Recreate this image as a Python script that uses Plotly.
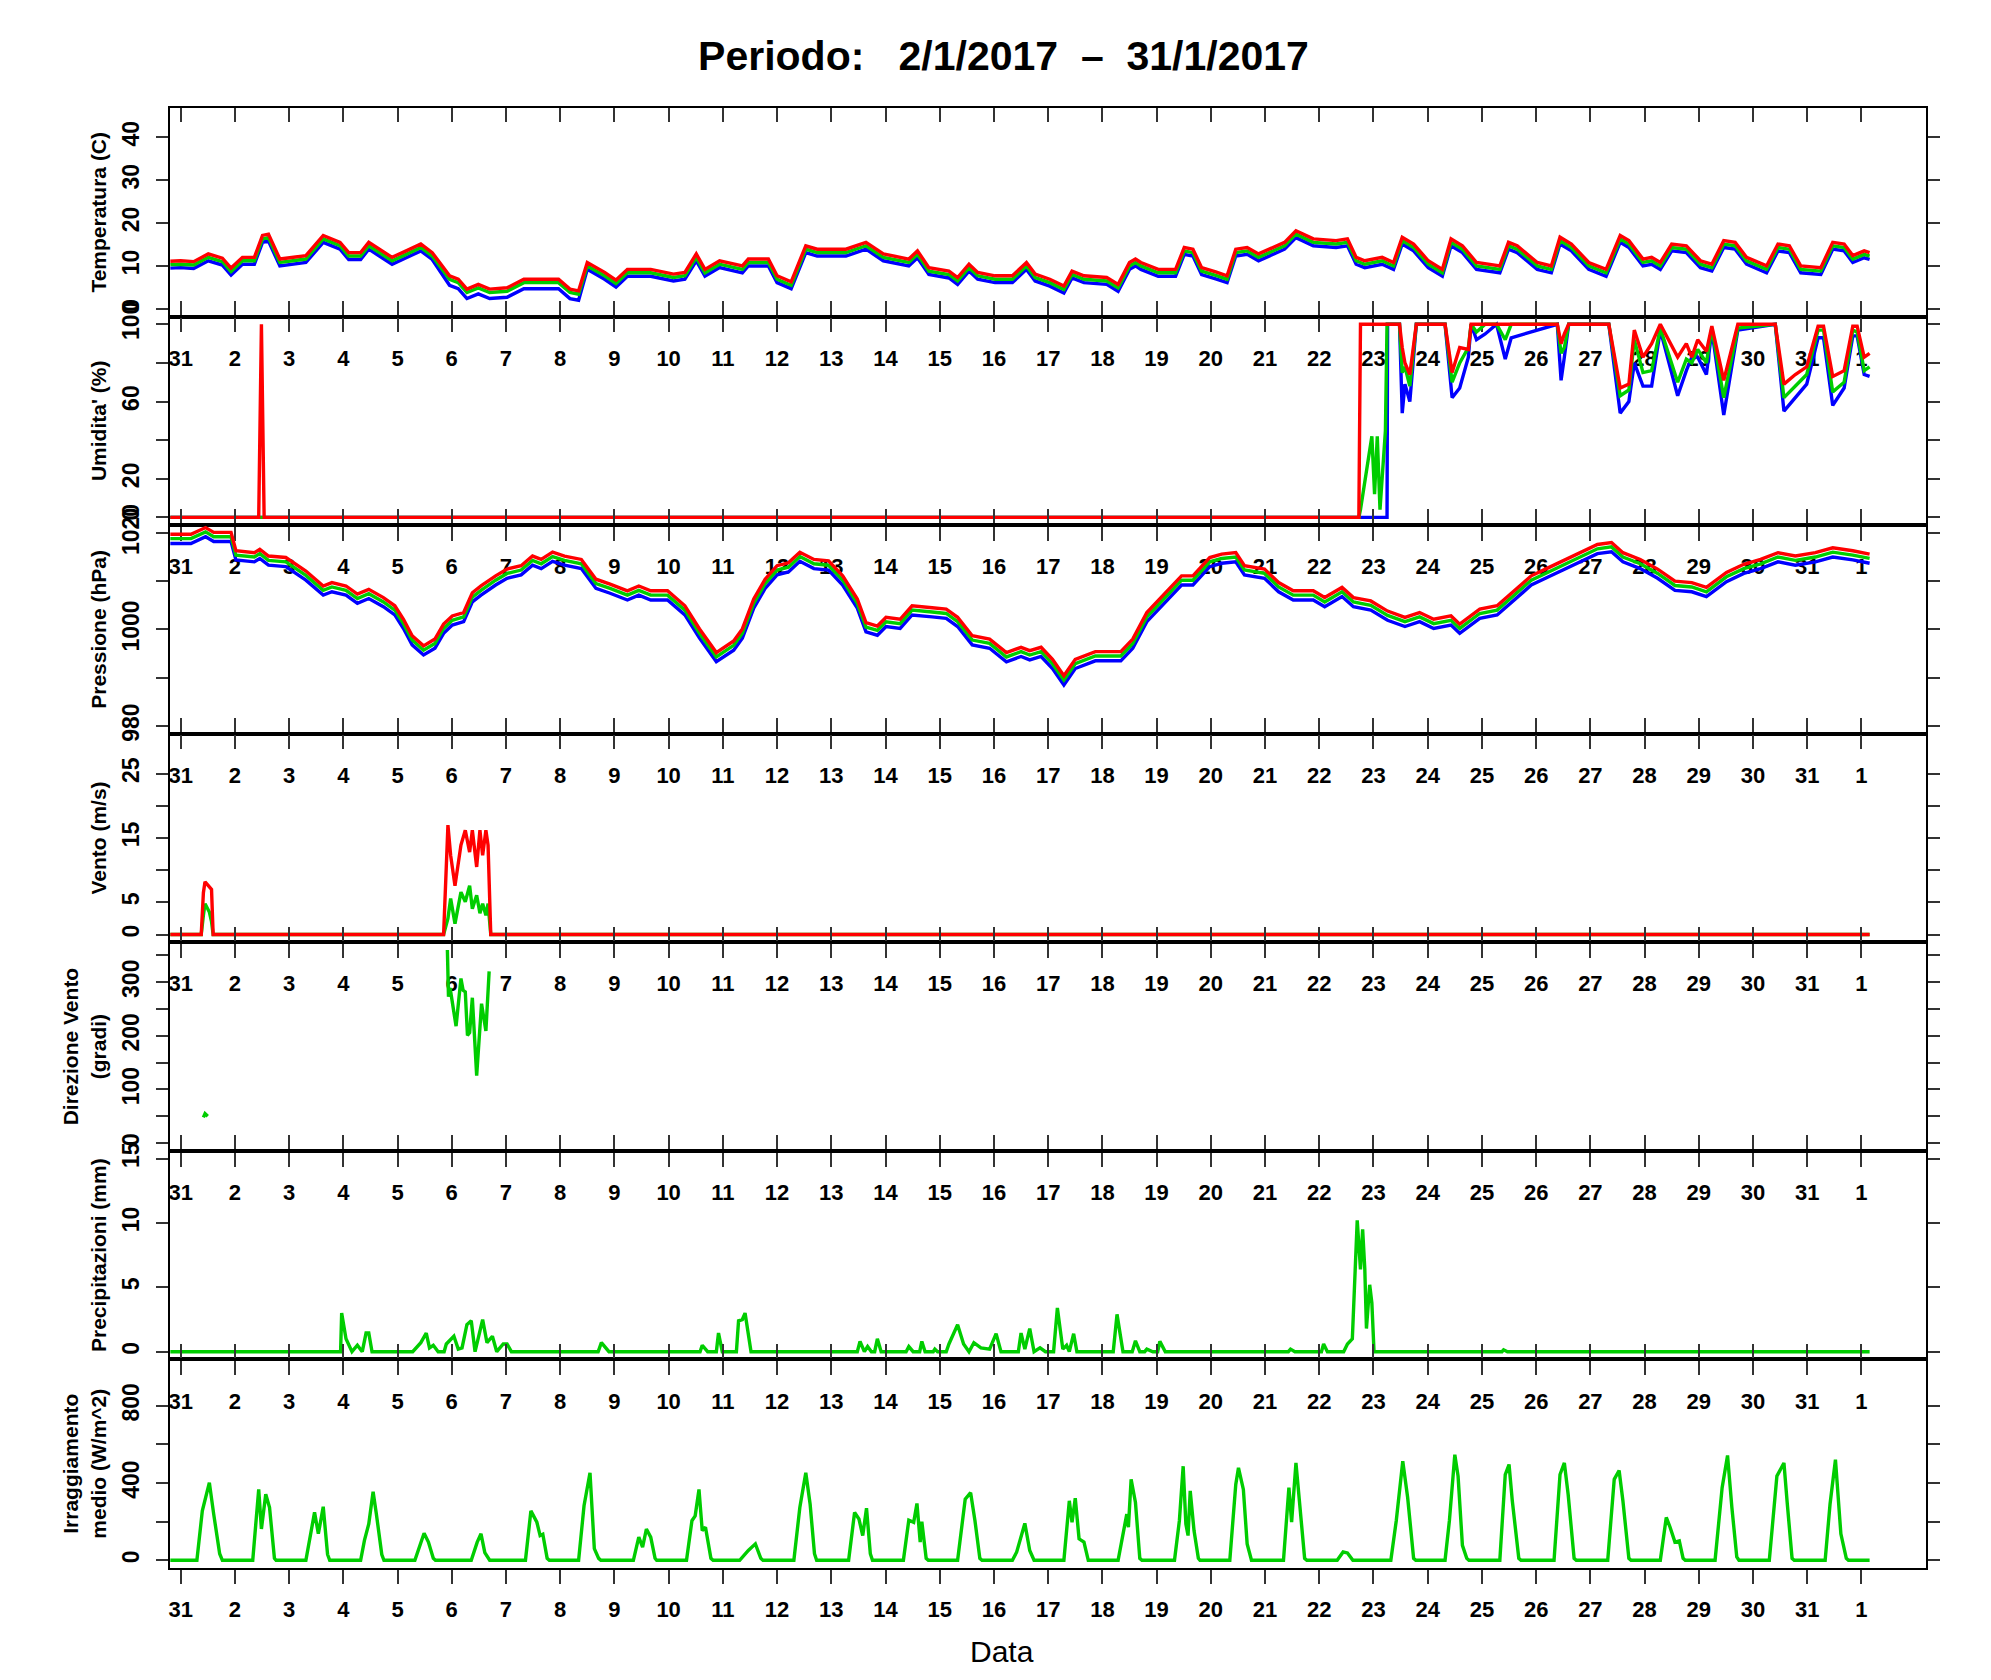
import pandas as pd
import plotly.graph_objects as go
from plotly.subplots import make_subplots

# giorni dall'1/1/2017 00:00
temp_days = [-0.19, 0.00, 0.24, 0.51, 0.77, 0.93, 1.14, 1.36, 1.51, 1.62,
             1.83, 2.10, 2.31, 2.63, 2.94, 3.10, 3.32, 3.47, 3.90, 4.16,
             4.43, 4.64, 4.96, 5.12, 5.28, 5.49, 5.70, 6.02, 6.33, 6.97,
             7.18, 7.34, 7.50, 7.82, 8.03, 8.24, 8.67, 9.09, 9.30, 9.51,
             9.67, 9.94, 10.36, 10.47, 10.84, 11.00, 11.26, 11.53, 11.74, 12.27,
             12.64, 12.96, 13.43, 13.59, 13.80, 14.17, 14.33, 14.54, 14.70, 15.02,
             15.34, 15.60, 15.76, 16.03, 16.29, 16.44, 16.66, 17.08, 17.29, 17.50,
             17.61, 17.71, 18.03, 18.35, 18.51, 18.67, 18.83, 19.09, 19.30, 19.46,
             19.67, 19.88, 20.36, 20.57, 20.89, 21.31, 21.52, 21.68, 21.84, 22.16,
             22.37, 22.53, 22.74, 23.01, 23.27, 23.43, 23.64, 23.90, 24.17, 24.33,
             24.49, 24.65, 25.02, 25.28, 25.44, 25.65, 25.97, 26.29, 26.55, 26.71,
             26.97, 27.13, 27.29, 27.50, 27.77, 28.03, 28.24, 28.46, 28.67, 28.88,
             29.25, 29.46, 29.67, 29.88, 30.25, 30.47, 30.68, 30.84, 31.05, 31.15]
temp_max = [11.1, 11.2, 11.0, 12.8, 11.8, 9.5, 12.0, 12.0, 17.1, 17.4,
            11.6, 12.0, 12.4, 17.1, 15.5, 13.1, 13.1, 15.5, 12.0, 13.5,
            15.1, 13.1, 7.7, 6.9, 4.6, 5.7, 4.6, 4.9, 6.9, 6.9,
            4.6, 4.2, 10.8, 8.5, 6.7, 9.2, 9.2, 8.1, 8.5, 12.8,
            9.2, 11.2, 10.0, 11.6, 11.6, 7.7, 6.3, 14.7, 13.9, 13.9,
            15.5, 12.8, 11.6, 13.5, 9.6, 8.8, 7.3, 10.4, 8.5, 7.7,
            7.7, 10.8, 8.1, 6.9, 5.3, 8.8, 7.7, 7.3, 5.7, 10.8,
            11.6, 10.8, 9.2, 9.2, 14.3, 13.9, 9.6, 8.6, 7.7, 13.9,
            14.3, 12.8, 15.5, 18.2, 16.3, 15.9, 16.3, 12.0, 11.2, 12.0,
            10.8, 16.7, 15.1, 11.2, 9.2, 16.3, 14.7, 10.8, 10.4, 10.0,
            15.5, 14.7, 10.8, 10.0, 16.7, 15.1, 10.8, 9.2, 17.1, 15.9,
            11.6, 12.0, 10.8, 15.1, 14.7, 11.2, 10.4, 15.9, 15.5, 12.0,
            10.0, 15.1, 14.7, 10.0, 9.6, 15.5, 15.1, 12.4, 13.5, 13.1]
temp_mean = [10.3, 10.4, 10.2, 12.0, 11.0, 8.7, 11.2, 11.2, 16.3, 16.6,
             10.8, 11.2, 11.6, 16.3, 14.7, 12.3, 12.3, 14.7, 11.2, 12.7,
             14.3, 12.3, 6.9, 6.1, 3.8, 4.9, 3.8, 4.1, 6.1, 6.1,
             3.8, 3.4, 10.0, 7.7, 5.9, 8.4, 8.4, 7.3, 7.7, 12.0,
             8.4, 10.4, 9.2, 10.8, 10.8, 6.9, 5.5, 13.9, 13.1, 13.1,
             14.7, 12.0, 10.8, 12.7, 8.8, 8.0, 6.5, 9.6, 7.7, 6.9,
             6.9, 10.0, 7.3, 6.1, 4.5, 8.0, 6.9, 6.5, 4.9, 10.0,
             10.8, 10.0, 8.4, 8.4, 13.5, 13.1, 8.8, 7.8, 6.9, 13.1,
             13.5, 12.0, 14.7, 17.4, 15.5, 15.1, 15.5, 11.2, 10.4, 11.2,
             10.0, 15.9, 14.3, 10.4, 8.4, 15.5, 13.9, 10.0, 9.6, 9.2,
             14.7, 13.9, 10.0, 9.2, 15.9, 14.3, 10.0, 8.4, 16.3, 15.1,
             10.8, 11.2, 10.0, 14.3, 13.9, 10.4, 9.6, 15.1, 14.7, 11.2,
             9.2, 14.3, 13.9, 9.2, 8.8, 14.7, 14.3, 11.6, 12.7, 12.3]
temp_min = [9.5, 9.6, 9.4, 11.2, 10.2, 7.9, 10.4, 10.4, 15.5, 15.8,
            10.0, 10.4, 10.8, 15.5, 13.9, 11.5, 11.5, 13.9, 10.4, 11.9,
            13.5, 11.5, 5.5, 4.7, 2.4, 3.5, 2.4, 2.7, 4.7, 4.7,
            2.4, 2.0, 9.2, 6.9, 5.1, 7.6, 7.6, 6.5, 6.9, 11.2,
            7.6, 9.6, 8.4, 10.0, 10.0, 6.1, 4.7, 13.1, 12.3, 12.3,
            13.9, 11.2, 10.0, 11.9, 8.0, 7.2, 5.7, 8.8, 6.9, 6.1,
            6.1, 9.2, 6.5, 5.3, 3.7, 7.2, 6.1, 5.7, 4.1, 9.2,
            10.0, 9.2, 7.6, 7.6, 12.7, 12.3, 8.0, 7.0, 6.1, 12.3,
            12.7, 11.2, 13.9, 16.6, 14.7, 14.3, 14.7, 10.4, 9.6, 10.4,
            9.2, 15.1, 13.5, 9.6, 7.6, 14.7, 13.1, 9.2, 8.8, 8.4,
            13.9, 13.1, 9.2, 8.4, 15.1, 13.5, 9.2, 7.6, 15.5, 14.3,
            10.0, 10.4, 9.2, 13.5, 13.1, 9.6, 8.8, 14.3, 13.9, 10.4,
            8.4, 13.5, 13.1, 8.4, 8.0, 13.9, 13.5, 10.8, 11.9, 11.5]

hum_days = [-0.19, 1.44, 1.49, 1.54, 21.73, 21.76, 21.97, 22.02, 22.07, 22.12,
            22.22, 22.25, 22.26, 22.48, 22.53, 22.58, 22.67, 22.79, 23.32, 23.45,
            23.59, 23.75, 23.80, 23.90, 24.06, 24.27, 24.43, 24.54, 25.39, 25.46,
            25.52, 25.60, 26.34, 26.55, 26.71, 26.81, 26.97, 27.13, 27.29, 27.61,
            27.77, 27.87, 27.98, 28.14, 28.24, 28.46, 28.72, 29.41, 29.57, 29.78,
            29.99, 30.20, 30.30, 30.47, 30.68, 30.84, 30.92, 31.05, 31.15]
hum_max = [0, 0, 100, 0, 0, 100, 100, 100, 100, 100,
           100, 100, 100, 100, 88, 80, 74, 100, 100, 75,
           88, 87, 100, 100, 100, 100, 100, 100, 100, 90,
           95, 100, 100, 67, 69, 97, 83, 90, 100, 83,
           90, 83, 92, 86, 99, 71, 100, 100, 69, 74,
           78, 99, 99, 73, 76, 99, 99, 83, 85]
hum_mean = [0, 0, 0, 0, 0, 4, 42, 12, 42, 4,
            45, 100, 100, 100, 75, 78, 68, 100, 100, 70,
            80, 88, 100, 96, 100, 100, 92, 100, 100, 85,
            88, 100, 100, 63, 66, 92, 75, 76, 98, 70,
            82, 80, 87, 80, 98, 62, 98, 100, 62, 68,
            74, 97, 97, 65, 70, 97, 96, 76, 78]
hum_min = [0, 0, 0, 0, 0, 0, 0, 0, 0, 0,
           0, 0, 100, 100, 54, 69, 60, 100, 100, 62,
           67, 83, 100, 92, 95, 100, 82, 93, 100, 71,
           83, 100, 100, 54, 60, 80, 68, 68, 97, 63,
           76, 83, 83, 74, 97, 53, 97, 100, 55, 62,
           69, 93, 93, 58, 67, 94, 94, 74, 73]

pres_days = [-0.19, 0.19, 0.46, 0.61, 0.93, 1.02, 1.36, 1.46, 1.62, 1.94,
             2.31, 2.63, 2.79, 3.05, 3.26, 3.47, 3.74, 3.95, 4.11, 4.27,
             4.48, 4.69, 4.85, 5.01, 5.22, 5.38, 5.54, 5.81, 6.02, 6.28,
             6.49, 6.65, 6.86, 7.08, 7.39, 7.66, 7.92, 8.24, 8.45, 8.67,
             8.98, 9.30, 9.57, 9.88, 10.20, 10.36, 10.57, 10.78, 11.00, 11.21,
             11.42, 11.68, 11.95, 12.21, 12.48, 12.64, 12.85, 13.01, 13.27, 13.49,
             13.86, 14.12, 14.33, 14.60, 14.92, 15.23, 15.50, 15.66, 15.87, 16.08,
             16.29, 16.50, 16.87, 17.34, 17.56, 17.82, 18.14, 18.46, 18.67, 18.98,
             19.20, 19.46, 19.62, 19.99, 20.25, 20.52, 20.89, 21.10, 21.42, 21.63,
             21.95, 22.26, 22.58, 22.85, 23.11, 23.43, 23.59, 23.96, 24.28, 24.59,
             24.91, 25.23, 25.54, 25.86, 26.13, 26.39, 26.60, 26.92, 27.24, 27.56,
             27.87, 28.14, 28.51, 28.83, 29.14, 29.46, 29.78, 30.15, 30.47, 30.84,
             31.15]
pres_max = [1019.7, 1019.7, 1021.1, 1020.1, 1020.1, 1016.3, 1015.9, 1016.6, 1015.2, 1014.9,
            1012.1, 1009.0, 1009.7, 1009.0, 1007.3, 1008.3, 1006.6, 1004.9, 1002.1, 998.7,
            996.6, 998.0, 1001.1, 1002.8, 1003.5, 1007.6, 1009.0, 1011.1, 1012.5, 1013.2,
            1015.2, 1014.5, 1016.0, 1015.2, 1014.5, 1010.4, 1009.4, 1008.0, 1009.0, 1008.0,
            1008.0, 1004.9, 1000.1, 995.2, 997.6, 1000.1, 1006.3, 1010.4, 1013.2, 1013.8,
            1016.0, 1014.5, 1014.2, 1011.1, 1006.3, 1001.4, 1000.7, 1002.5, 1002.1, 1004.9,
            1004.5, 1004.2, 1002.5, 998.7, 998.0, 995.2, 996.3, 995.6, 996.3, 993.8,
            990.4, 993.8, 995.4, 995.4, 998.0, 1003.5, 1007.3, 1011.1, 1011.1, 1014.9,
            1015.6, 1015.9, 1013.2, 1012.5, 1009.7, 1008.0, 1008.0, 1006.6, 1008.7, 1006.6,
            1005.9, 1003.8, 1002.5, 1003.5, 1002.1, 1002.8, 1001.1, 1004.2, 1004.9, 1008.0,
            1011.1, 1012.8, 1014.5, 1016.3, 1017.6, 1018.0, 1015.9, 1014.5, 1012.5, 1010.0,
            1009.7, 1008.7, 1011.8, 1013.5, 1014.5, 1015.9, 1015.2, 1015.9, 1016.9, 1016.3,
            1015.6]
pres_mean = [1018.8, 1018.8, 1020.2, 1019.2, 1019.2, 1015.4, 1015.0, 1015.7, 1014.3, 1014.0,
             1011.2, 1008.1, 1008.8, 1008.1, 1006.4, 1007.4, 1005.7, 1004.0, 1001.2, 997.8,
             995.7, 997.1, 1000.2, 1001.9, 1002.6, 1006.7, 1008.1, 1010.2, 1011.6, 1012.3,
             1014.3, 1013.6, 1015.1, 1014.3, 1013.6, 1009.5, 1008.5, 1007.1, 1008.1, 1007.1,
             1007.1, 1004.0, 999.2, 994.3, 996.7, 999.2, 1005.4, 1009.5, 1012.3, 1012.9,
             1015.1, 1013.6, 1013.3, 1010.2, 1005.4, 1000.5, 999.8, 1001.6, 1001.2, 1004.0,
             1003.6, 1003.3, 1001.6, 997.8, 997.1, 994.3, 995.4, 994.7, 995.4, 992.9,
             989.5, 992.9, 994.5, 994.5, 997.1, 1002.6, 1006.4, 1010.2, 1010.2, 1014.0,
             1014.7, 1015.0, 1012.3, 1011.6, 1008.8, 1007.1, 1007.1, 1005.7, 1007.8, 1005.7,
             1005.0, 1002.9, 1001.6, 1002.6, 1001.2, 1001.9, 1000.2, 1003.3, 1004.0, 1007.1,
             1010.2, 1011.9, 1013.6, 1015.4, 1016.7, 1017.1, 1015.0, 1013.6, 1011.6, 1009.1,
             1008.8, 1007.8, 1010.9, 1012.6, 1013.6, 1015.0, 1014.3, 1015.0, 1016.0, 1015.4,
             1014.7]
pres_min = [1017.8, 1017.8, 1019.2, 1018.2, 1018.2, 1014.4, 1014.0, 1014.7, 1013.3, 1013.0,
            1010.2, 1007.1, 1007.8, 1007.1, 1005.4, 1006.4, 1004.7, 1003.0, 1000.2, 996.8,
            994.7, 996.1, 999.2, 1000.9, 1001.6, 1005.7, 1007.1, 1009.2, 1010.6, 1011.3,
            1013.3, 1012.6, 1014.1, 1013.3, 1012.6, 1008.5, 1007.5, 1006.1, 1007.1, 1006.1,
            1006.1, 1003.0, 998.2, 993.3, 995.7, 998.2, 1004.4, 1008.5, 1011.3, 1011.9,
            1014.1, 1012.6, 1012.3, 1009.2, 1004.4, 999.5, 998.8, 1000.6, 1000.2, 1003.0,
            1002.6, 1002.3, 1000.6, 996.8, 996.1, 993.3, 994.4, 993.7, 994.4, 991.9,
            988.5, 991.9, 993.5, 993.5, 996.1, 1001.6, 1005.4, 1009.2, 1009.2, 1013.0,
            1013.7, 1014.0, 1011.3, 1010.6, 1007.8, 1006.1, 1006.1, 1004.7, 1006.8, 1004.7,
            1004.0, 1001.9, 1000.6, 1001.6, 1000.2, 1000.9, 999.2, 1002.3, 1003.0, 1006.1,
            1009.2, 1010.9, 1012.6, 1014.4, 1015.7, 1016.1, 1014.0, 1012.6, 1010.6, 1008.1,
            1007.8, 1006.8, 1009.9, 1011.6, 1012.6, 1014.0, 1013.3, 1014.0, 1015.0, 1014.4,
            1013.7]

wind_days = [-0.19, 0.38, 0.42, 0.45, 0.53, 0.57, 0.60, 4.85, 4.93, 4.98,
             5.06, 5.17, 5.25, 5.33, 5.38, 5.46, 5.52, 5.57, 5.63, 5.67,
             5.72, 31.15]
wind_max = [0, 0, 6.5, 8.2, 7.4, 7.0, 0, 0, 17.0, 12.3,
            7.6, 13.9, 16.2, 12.8, 16.2, 10.5, 16.2, 12.3, 16.2, 13.9,
            0, 0]
wind_mean = [0, 0, 3.0, 4.8, 3.5, 2.0, 0, 0, 2.5, 5.6,
             1.7, 6.6, 5.1, 7.6, 4.0, 6.1, 3.3, 4.8, 3.0, 4.8,
             0, 0]

dir_days = [0.42, 0.45, 0.50, 0.51, 4.92, 4.94, 4.97, 5.00, 5.08, 5.17,
            5.21, 5.25, 5.29, 5.33, 5.38, 5.46, 5.55, 5.63, 5.69]
dir_vals = [48, 55, 50, None, 360, 273, 289, 272, 218, 307,
            285, 282, 201, 206, 271, 126, 260, 209, 320]

rain_days = [-0.19, 2.95, 2.97, 3.05, 3.16, 3.26, 3.35, 3.42, 3.47, 3.53,
             4.28, 4.32, 4.43, 4.53, 4.59, 4.66, 4.75, 4.86, 4.90, 5.04,
             5.12, 5.19, 5.28, 5.36, 5.43, 5.57, 5.65, 5.75, 5.83, 5.95,
             6.02, 6.10, 7.70, 7.76, 7.90, 9.58, 9.62, 9.72, 9.88, 9.92,
             9.99, 10.25, 10.29, 10.36, 10.41, 10.52, 12.48, 12.53, 12.61, 12.67,
             12.74, 12.80, 12.85, 12.92, 13.38, 13.43, 13.51, 13.63, 13.67, 13.73,
             13.88, 13.91, 13.96, 14.12, 14.17, 14.33, 14.44, 14.54, 14.63, 14.76,
             14.92, 15.04, 15.13, 15.45, 15.50, 15.57, 15.66, 15.74, 15.85, 15.95,
             16.10, 16.17, 16.27, 16.34, 16.39, 16.47, 16.53, 17.20, 17.27, 17.38,
             17.55, 17.61, 17.69, 17.78, 17.82, 17.93, 18.02, 18.06, 18.16, 20.43,
             20.47, 20.55, 21.04, 21.08, 21.15, 21.45, 21.52, 21.61, 21.70, 21.76,
             21.80, 21.84, 21.87, 21.93, 21.97, 22.01, 24.37, 24.40, 24.47, 31.15]
rain_vals = [0, 0, 3.0, 1.0, 0, 0.5, 0, 1.45, 1.45, 0,
             0, 0.2, 0.7, 1.45, 0.3, 0.5, 0, 0, 0.6, 1.2,
             0.2, 0.3, 2.1, 2.4, 0, 2.5, 0.7, 1.2, 0, 0.6,
             0.6, 0, 0, 0.7, 0, 0, 0.5, 0, 0, 1.45,
             0, 0, 2.4, 2.5, 3.0, 0, 0, 0.8, 0, 0.4,
             0, 0, 1.0, 0, 0, 0.4, 0, 0, 0.8, 0,
             0, 0.2, 0, 0, 0.6, 2.1, 0.6, 0, 0.7, 0.3,
             0.2, 1.4, 0, 0, 1.45, 0.2, 1.8, 0, 0.3, 0,
             0, 3.4, 0.2, 0.5, 0, 1.4, 0, 0, 2.9, 0,
             0, 0.85, 0, 0, 0.2, 0, 0, 0.8, 0, 0,
             0.2, 0, 0, 0.6, 0, 0, 0.6, 1.0, 10.2, 6.4,
             9.5, 6.4, 1.8, 5.2, 3.8, 0, 0, 0.15, 0, 0]

sun_days = [-0.19, 0.30, 0.40, 0.53, 0.61, 0.72, 0.77,
            1.33, 1.44, 1.49, 1.57, 1.64, 1.73, 1.76,
            2.31, 2.39, 2.47, 2.54, 2.63, 2.71, 2.75,
            3.32, 3.39, 3.47, 3.55, 3.61, 3.71, 3.75,
            4.32, 4.49, 4.57, 4.66, 4.70,
            5.36, 5.47, 5.54, 5.61, 5.70,
            6.36, 6.46, 6.57, 6.63, 6.68, 6.76, 6.80,
            7.34, 7.44, 7.55, 7.63, 7.71, 7.75,
            8.35, 8.45, 8.52, 8.59, 8.67, 8.75, 8.78,
            9.33, 9.43, 9.49, 9.56, 9.62, 9.68, 9.78, 9.82,
            10.31, 10.47, 10.60, 10.70, 10.74,
            11.31, 11.42, 11.53, 11.61, 11.69, 11.73,
            12.32, 12.43, 12.51, 12.58, 12.65, 12.72, 12.76,
            13.33, 13.43, 13.52, 13.58, 13.64, 13.67, 13.75, 13.79,
            14.33, 14.47, 14.57, 14.65, 14.74, 14.78,
            15.34, 15.42, 15.57, 15.66, 15.74,
            16.29, 16.39, 16.44, 16.50, 16.57, 16.66, 16.74,
            17.29, 17.45, 17.48, 17.53, 17.61, 17.69, 17.73,
            18.33, 18.42, 18.49, 18.54, 18.58, 18.62, 18.69, 18.77, 18.80,
            19.35, 19.46, 19.51, 19.60, 19.67, 19.75,
            20.34, 20.44, 20.49, 20.57, 20.65, 20.73, 20.77,
            21.33, 21.44, 21.52, 21.62,
            22.32, 22.42, 22.54, 22.63, 22.74, 22.78,
            23.32, 23.40, 23.50, 23.56, 23.64, 23.72, 23.76,
            24.33, 24.43, 24.50, 24.56, 24.68, 24.72,
            25.33, 25.44, 25.52, 25.59, 25.70, 25.74,
            26.32, 26.44, 26.53, 26.60, 26.71, 26.75,
            27.29, 27.40, 27.47, 27.56, 27.64, 27.71, 27.75,
            28.30, 28.43, 28.53, 28.61, 28.70, 28.74,
            29.30, 29.44, 29.57, 29.63, 29.72, 29.76,
            30.33, 30.42, 30.52, 30.62, 30.72, 30.76, 31.15]
sun_vals = [0, 0, 256, 402, 239, 34, 0,
            0, 367, 162, 342, 273, 10, 0,
            0, 137, 248, 137, 277, 30, 0,
            0, 103, 188, 355, 240, 30, 0,
            0, 140, 94, 10, 0,
            0, 94, 137, 40, 0,
            0, 256, 197, 128, 135, 10, 0,
            0, 282, 453, 60, 10, 0,
            0, 120, 68, 162, 120, 10, 0,
            0, 205, 230, 367, 154, 171, 10, 0,
            0, 51, 85, 10, 0,
            0, 273, 453, 290, 34, 0,
            0, 248, 214, 128, 270, 34, 0,
            0, 208, 197, 294, 94, 200, 10, 0,
            0, 316, 350, 205, 10, 0,
            0, 43, 191, 51, 0,
            0, 308, 197, 321, 111, 94, 0,
            0, 239, 171, 419, 299, 10, 0,
            0, 205, 487, 188, 128, 359, 154, 10, 0,
            0, 393, 479, 367, 85, 0,
            0, 376, 197, 504, 273, 10, 0,
            0, 43, 38, 0,
            0, 205, 513, 325, 10, 0,
            0, 205, 547, 436, 77, 10, 0,
            0, 444, 496, 308, 10, 0,
            0, 444, 504, 342, 10, 0,
            0, 419, 465, 308, 10, 0,
            0, 222, 171, 94, 100, 10, 0,
            0, 376, 543, 273, 17, 0,
            0, 436, 504, 299, 10, 0,
            0, 290, 521, 137, 10, 0, 0]

tick_days = list(range(0, 32))
tick_labels = ["31", "2", "3", "4", "5", "6", "7", "8", "9", "10", "11",
               "12", "13", "14", "15", "16", "17", "18", "19", "20", "21",
               "22", "23", "24", "25", "26", "27", "28", "29", "30", "31", "1"]

RED = "#FF0000"
GREEN = "#00CD00"
BLUE = "#0000FF"
FONT = "Liberation Sans, Arial, sans-serif"

base = pd.Timestamp("2017-01-01")


def to_time(days):
    return [base + pd.Timedelta(days=d) for d in days]


fig = make_subplots(rows=7, cols=1, vertical_spacing=0)


def add_line(row, days, vals, color):
    fig.add_trace(go.Scatter(x=to_time(days), y=vals, mode="lines",
                             line=dict(color=color, width=3.4),
                             showlegend=False, hoverinfo="skip"), row=row, col=1)


add_line(1, temp_days, temp_min, BLUE)
add_line(1, temp_days, temp_mean, GREEN)
add_line(1, temp_days, temp_max, RED)
add_line(2, hum_days, hum_min, BLUE)
add_line(2, hum_days, hum_mean, GREEN)
add_line(2, hum_days, hum_max, RED)
add_line(3, pres_days, pres_min, BLUE)
add_line(3, pres_days, pres_mean, GREEN)
add_line(3, pres_days, pres_max, RED)
add_line(4, wind_days, wind_mean, GREEN)
add_line(4, wind_days, wind_max, RED)
add_line(5, dir_days, dir_vals, GREEN)
add_line(6, rain_days, rain_vals, GREEN)
add_line(7, sun_days, sun_vals, GREEN)

x_range = [base + pd.Timedelta(days=-0.196), base + pd.Timedelta(days=32.19)]
tick_vals = to_time(tick_days)

panels = [
    ("<b>Temperatura (C)</b>", [-1.8, 46.8], [0, 10, 20, 30, 40], ["0", "10", "20", "30", "40"]),
    ("<b>Umidita' (%)</b>", [-4, 104], [0, 20, 40, 60, 80, 100], ["0", "20", "", "60", "", "100"]),
    ("<b>Pressione (hPa)</b>", [978.4, 1021.6], [980, 990, 1000, 1010, 1020], ["980", "", "1000", "", "1020"]),
    ("<b>Vento (m/s)</b>", [-1.2, 31.2], [0, 5, 10, 15, 20, 25], ["0", "5", "", "15", "", "25"]),
    ("<b>Direzione Vento<br>(gradi)</b>", [-14.4, 374.4], [0, 50, 100, 150, 200, 250, 300, 350],
     ["0", "", "100", "", "200", "", "300", ""]),
    ("<b>Precipitazioni (mm)</b>", [-0.6, 15.6], [0, 5, 10, 15], ["0", "5", "10", "15"]),
    ("<b>Irraggiamento<br>medio (W/m^2)</b>", [-40, 1040], [0, 200, 400, 600, 800], ["0", "", "400", "", "800"]),
]

for i, (title, yr, yv, yt) in enumerate(panels, start=1):
    fig.update_xaxes(
        row=i, col=1, type="date", range=x_range, automargin=False,
        tickmode="array", tickvals=tick_vals, ticktext=tick_labels,
        ticks="outside", ticklen=14, tickwidth=1.5, tickcolor="#333333",
        showline=True, linecolor="black", linewidth=1.5,
        mirror=True if i == 1 else "ticks",
        showgrid=False, zeroline=False,
        tickfont=dict(family=FONT, size=22, color="black", weight="bold"),
        ticklabelstandoff=7,
    )
    fig.update_yaxes(
        row=i, col=1, range=yr, automargin=False,
        tickmode="array", tickvals=yv, ticktext=yt,
        ticks="outside", ticklen=12, tickwidth=1.5, tickcolor="#333333",
        showline=True, linecolor="black", linewidth=1.5, mirror="ticks",
        showgrid=False, zeroline=False, tickangle=-90,
        tickfont=dict(family=FONT, size=23, color="black", weight="bold"),
        ticklabelstandoff=8,
        title=dict(text=title, standoff=6, font=dict(family=FONT, size=21, color="black")),
    )

# tacche interne sul bordo superiore del primo pannello
fig.add_trace(go.Scatter(x=[], y=[], xaxis="x8", yaxis="y", showlegend=False))
fig.update_layout(xaxis8=dict(
    overlaying="x", anchor="y", side="top", type="date", range=x_range, automargin=False,
    tickmode="array", tickvals=tick_vals, showticklabels=False,
    ticks="inside", ticklen=14, tickwidth=1.5, tickcolor="#333333",
    showline=False, showgrid=False, zeroline=False,
))

fig.update_layout(
    width=1991, height=1680,
    margin=dict(l=162, r=73, t=100, b=120),
    paper_bgcolor="white", plot_bgcolor="white",
    title=dict(text="<b>Periodo:\u00a0\u00a0\u00a02/1/2017\u00a0\u00a0\u2013\u00a0\u00a031/1/2017</b>",
               x=0.5, xanchor="center", y=1 - 48 / 1680, yanchor="middle",
               font=dict(family=FONT, size=41, color="black")),
    annotations=[dict(text="Data", xref="paper", yref="paper", x=0.4736, y=-0.057,
                      showarrow=False, xanchor="center", yanchor="middle",
                      font=dict(family=FONT, size=30, color="black"))],
)

fig.write_html("out.html")
